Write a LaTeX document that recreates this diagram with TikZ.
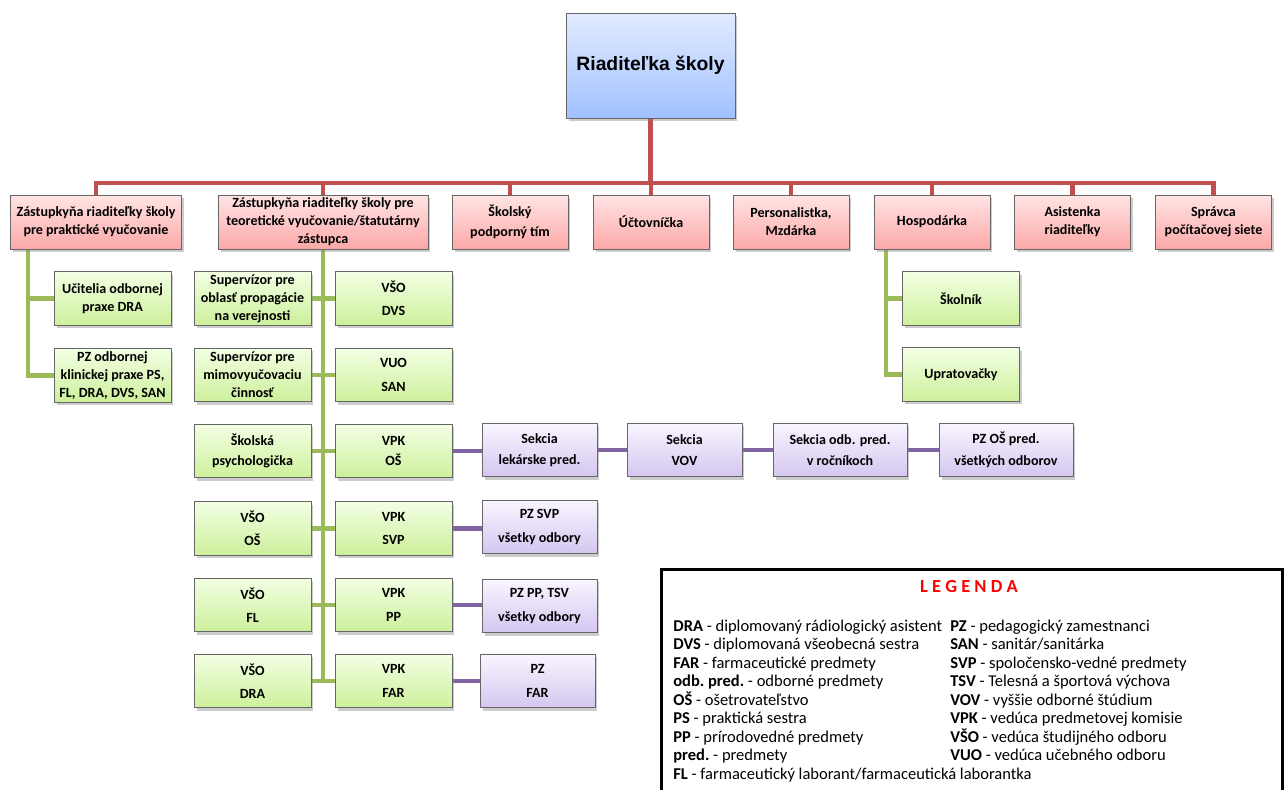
\documentclass[tikz,border=0pt]{standalone}
\usepackage{fontspec}
\setmainfont{Carlito}
\newfontfamily\arialfont{Liberation Sans}
\usetikzlibrary{shadows,backgrounds}

\definecolor{redline}{RGB}{192,80,77}
\definecolor{greenline}{RGB}{155,187,89}
\definecolor{purpleline}{RGB}{128,100,162}

\tikzset{
  box/.style={draw=black!60, line width=0.5pt, align=center, inner sep=0.5pt,
    font=\fontsize{8}{10.3}\selectfont\bfseries,
    drop shadow={shadow xshift=0.05cm, shadow yshift=-0.06cm, opacity=0.4}},
  topbox/.style={box, top color={rgb,255:red,226;green,235;blue,255}, bottom color={rgb,255:red,160;green,193;blue,255},
    minimum width=3.38cm, minimum height=2.1cm, font=\arialfont\fontsize{11}{13}\selectfont\bfseries},
  redbox/.style={box, top color={rgb,255:red,255;green,228;blue,228}, bottom color={rgb,255:red,252;green,168;blue,168},
    minimum width=2.32cm, minimum height=1.08cm},
  greenbox/.style={box, top color={rgb,255:red,243;green,255;blue,228}, bottom color={rgb,255:red,205;green,240;blue,155},
    minimum width=2.34cm, minimum height=1.07cm},
  purplebox/.style={box, top color={rgb,255:red,249;green,245;blue,255}, bottom color={rgb,255:red,212;green,198;blue,240},
    minimum width=2.3cm, minimum height=1.07cm},
  redcon/.style={draw=redline, line width=2.8pt},
  greencon/.style={draw=greenline, line width=2.4pt},
  purplecon/.style={draw=purpleline, line width=2.4pt},
  legline/.style={anchor=base west, inner sep=0pt, font=\fontsize{9.4}{10}\selectfont\frenchspacing}
}

\begin{document}
\begin{tikzpicture}[x=0.02cm, y=-0.02cm]
  \useasboundingbox (0,0) rectangle (1285,790);

  % riaditelka
  \node[topbox] (riad) at (650.5,65.5) {Riaditeľka školy};

  % druhy riadok
  \node[redbox, minimum width=3.42cm] (zpv) at (96,222) {Zástupkyňa riaditeľky školy\\pre praktické vyučovanie};
  \node[redbox, minimum width=4.2cm] (ztv) at (323,222) {Zástupkyňa riaditeľky školy pre\\teoretické vyučovanie/štatutárny\\zástupca};
  \node[redbox] (skt) at (510,222) {Školský\\[1pt]podporný tím};
  \node[redbox] (uct) at (651,222) {Účtovníčka};
  \node[redbox] (pers) at (791,222) {Personalistka,\\Mzdárka};
  \node[redbox] (hosp) at (932,222) {Hospodárka};
  \node[redbox] (asist) at (1072.5,222) {Asistenka\\riaditeľky};
  \node[redbox] (spr) at (1213.5,222) {Správca\\počítačovej siete};

  % prakticke vyucovanie
  \node[greenbox] (ucit) at (112.5,298.5) {Učitelia odbornej\\praxe DRA};
  \node[greenbox] (pzok) at (112.5,375.5) {PZ odbornej\\klinickej praxe PS,\\FL, DRA, DVS, SAN};

  % teoreticke vyucovanie
  \node[greenbox] (supa) at (252.5,298.5) {Supervízor pre\\oblasť propagácie\\na verejnosti};
  \node[greenbox] (supb) at (252.5,375) {Supervízor pre\\mimovyučovaciu\\činnosť};
  \node[greenbox] (psych) at (252.5,451) {Školská\\[1pt]psychologička};
  \node[greenbox] (vsoos) at (252.5,528.5) {VŠO\\[3pt]OŠ};
  \node[greenbox] (vsofl) at (252.5,605) {VŠO\\[3pt]FL};
  \node[greenbox] (vsodra) at (252.5,681) {VŠO\\[3pt]DRA};

  \node[greenbox] (vsodvs) at (393.5,298.5) {VŠO\\[3pt]DVS};
  \node[greenbox] (vuosan) at (393.5,375) {VUO\\[3pt]SAN};
  \node[greenbox] (vpkos) at (393.5,451) {VPK\\[1pt]OŠ};
  \node[greenbox] (vpksvp) at (393.5,528.5) {VPK\\[3pt]SVP};
  \node[greenbox] (vpkpp) at (393.5,605) {VPK\\[3pt]PP};
  \node[greenbox] (vpkfar) at (393.5,681) {VPK\\[3pt]FAR};

  % sekcie
  \node[purplebox] (secl) at (539.5,450) {Sekcia\\[2pt]lekárske pred.};
  \node[purplebox] (secv) at (684.5,450) {Sekcia\\[2pt]VOV};
  \node[purplebox, minimum width=2.68cm] (seco) at (840,450) {Sekcia odb. pred.\\[2pt]v ročníkoch};
  \node[purplebox, minimum width=2.68cm] (pzos) at (1006,450) {PZ OŠ pred.\\[2pt]všetkých odborov};
  \node[purplebox] (pzsvp) at (539.5,527) {PZ SVP\\[3pt]všetky odbory};
  \node[purplebox] (pzpp) at (539.5,606) {PZ PP, TSV\\[3pt]všetky odbory};
  \node[purplebox] (pzfar) at (537.5,681) {PZ\\[3pt]FAR};

  % hospodarka
  \node[greenbox] (skoln) at (961,298.5) {Školník};
  \node[greenbox] (uprat) at (961,374.5) {Upratovačky};

  \begin{scope}[on background layer]
    \coordinate (bar) at (650,183);
    \foreach \n in {zpv,ztv,skt,uct,pers,hosp,asist,spr}
      \draw[redcon] (riad.south) -- (riad.south |- bar) -| (\n.north);
    % lava vetva
    \coordinate (lsp) at ([xshift=-1.36cm]zpv.south);
    \draw[greencon] (lsp) |- (pzok.west);
    \draw[greencon] (ucit.west) -- (ucit.west -| lsp);
    % stredna vetva
    \draw[greencon] (ztv.south) -- (ztv.south |- vpkfar.west);
    \draw[greencon] (supa.east) -- (vsodvs.west);
    \draw[greencon] (supb.east) -- (vuosan.west);
    \draw[greencon] (psych.east) -- (vpkos.west);
    \draw[greencon] (vsoos.east) -- (vpksvp.west);
    \draw[greencon] (vsofl.east) -- (vpkpp.west);
    \draw[greencon] (vsodra.east) -- (vpkfar.west);
    % hospodarka
    \coordinate (hsp) at ([xshift=-0.92cm]hosp.south);
    \draw[greencon] (hsp) |- (uprat.west);
    \draw[greencon] (skoln.west) -- (skoln.west -| hsp);
    % sekcie
    \draw[purplecon] (vpkos.east) -- (vpkos.east -| secl.west);
    \draw[purplecon] (secl.east) -- (secv.west);
    \draw[purplecon] (secv.east) -- (seco.west);
    \draw[purplecon] (seco.east) -- (pzos.west);
    \draw[purplecon] (vpksvp.east) -- (vpksvp.east -| pzsvp.west);
    \draw[purplecon] (vpkpp.east) -- (vpkpp.east -| pzpp.west);
    \draw[purplecon] (vpkfar.east) -- (pzfar.west);
  \end{scope}

  % legenda
  \node[draw, line width=1.6pt, anchor=north west, minimum width=12.42cm, minimum height=5cm] (leg) at (660,568) {};
  \node[text=red, font=\fontsize{10.5}{11}\selectfont\bfseries] (legt) at (969,587) {L E G E N D A};
  \foreach \ab/\txt [count=\i] in {DRA/{diplomovaný rádiologický asistent}, DVS/{diplomovaná všeobecná sestra},
      FAR/{farmaceutické predmety}, odb. pred./{odborné predmety}, OŠ/{ošetrovateľstvo},
      PS/{praktická sestra}, PP/{prírodovedné predmety}, pred./{predmety},
      FL/{farmaceutický laborant/farmaceutická laborantka}}
    \node[legline] (la\i) at (673,{631+18.5*(\i-1)}) {\textbf{\ab} - \txt};
  \foreach \ab/\txt [count=\i] in {PZ/{pedagogický zamestnanci}, SAN/{sanitár/sanitárka},
      SVP/{spoločensko-vedné predmety}, TSV/{Telesná a športová výchova}, VOV/{vyššie odborné štúdium},
      VPK/{vedúca predmetovej komisie}, VŠO/{vedúca študijného odboru}, VUO/{vedúca učebného odboru}}
    \node[legline] (lb\i) at (950,{631+18.5*(\i-1)}) {\textbf{\ab} - \txt};
\end{tikzpicture}
\end{document}
